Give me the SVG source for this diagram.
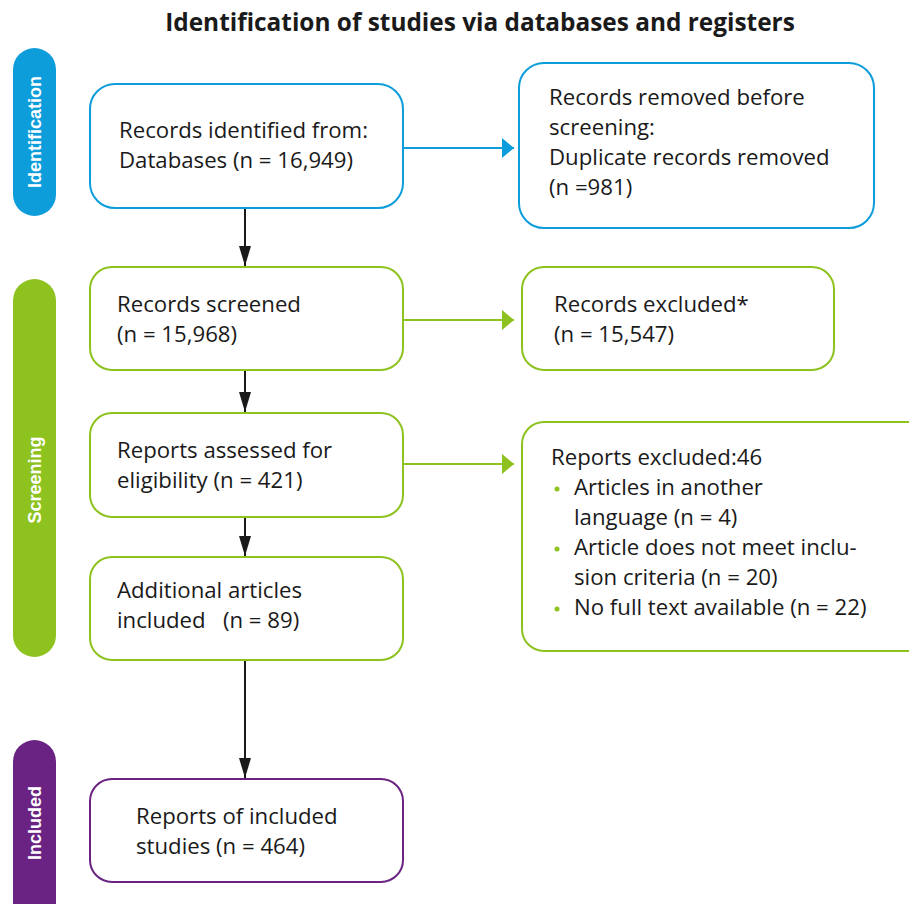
<svg xmlns="http://www.w3.org/2000/svg" width="909" height="904" viewBox="0 0 909 904">
<defs>
<style>
.t{font-family:"Open Sans","Noto Sans","Liberation Sans",sans-serif;font-size:22.2px;fill:#1a1a1a;white-space:pre}
.side{font-family:"Liberation Sans",Arial,sans-serif;font-size:18px;font-weight:bold;fill:#fff}
.title{font-family:"Open Sans","Liberation Sans",sans-serif;font-size:24.4px;font-weight:bold;fill:#1a1a1a}
.b{fill:#fff;stroke:#0d9ddb;stroke-width:2}
.g{fill:#fff;stroke:#8dc21f;stroke-width:2}
.p{fill:#fff;stroke:#6a2382;stroke-width:2}
.dot{fill:#8dc21f}
</style>
<marker id="ak" viewBox="0 0 20 12" refX="20" refY="6" markerWidth="20" markerHeight="12" markerUnits="userSpaceOnUse" orient="auto"><path d="M0,0L20,6L0,12z" fill="#1a1a1a"/></marker>
<marker id="ab" viewBox="0 0 12 20" refX="12" refY="10" markerWidth="12" markerHeight="20" markerUnits="userSpaceOnUse" orient="auto"><path d="M0,0L12,10L0,20z" fill="#0d9ddb"/></marker>
<marker id="ag" viewBox="0 0 12 20" refX="12" refY="10" markerWidth="12" markerHeight="20" markerUnits="userSpaceOnUse" orient="auto"><path d="M0,0L12,10L0,20z" fill="#8dc21f"/></marker>
</defs>
<rect width="909" height="904" fill="#fff"/>
<text class="title" x="480" y="31" text-anchor="middle">Identification of studies via databases and registers</text>

<g id="phase-identification"><rect x="13" y="48" width="43" height="168" rx="21.5" fill="#0d9ddb"/><text class="side" transform="translate(41,132) rotate(-90)" text-anchor="middle">Identification</text></g>
<g id="phase-screening"><rect x="13" y="279" width="43" height="378" rx="21.5" fill="#8dc21f"/><text class="side" transform="translate(41,480) rotate(-90)" text-anchor="middle">Screening</text></g>
<g id="phase-included"><rect x="13" y="740" width="43" height="190" rx="21.5" fill="#6a2382"/><text class="side" transform="translate(41,823) rotate(-90)" text-anchor="middle">Included</text></g>

<g id="connectors">
<line x1="403" y1="148" x2="514" y2="148" stroke="#0d9ddb" stroke-width="2" marker-end="url(#ab)"/>
<line x1="403" y1="320" x2="514" y2="320" stroke="#8dc21f" stroke-width="2" marker-end="url(#ag)"/>
<line x1="403" y1="464" x2="514" y2="464" stroke="#8dc21f" stroke-width="2" marker-end="url(#ag)"/>
<line x1="245" y1="208" x2="245" y2="266" stroke="#1a1a1a" stroke-width="2" marker-end="url(#ak)"/>
<line x1="245" y1="370" x2="245" y2="412" stroke="#1a1a1a" stroke-width="2" marker-end="url(#ak)"/>
<line x1="245" y1="517" x2="245" y2="556" stroke="#1a1a1a" stroke-width="2" marker-end="url(#ak)"/>
<line x1="245" y1="660" x2="245" y2="778" stroke="#1a1a1a" stroke-width="2" marker-end="url(#ak)"/>
</g>

<g id="n1"><rect class="b" x="90" y="84" width="313" height="124" rx="25"/><text class="t" x="119" y="138">Records identified from:</text><text class="t" x="119" y="168">Databases (n = 16,949)</text></g>
<g id="n2"><rect class="b" x="519" y="63" width="355" height="165" rx="25"/><text class="t" x="549" y="105">Records removed before</text><text class="t" x="549" y="135">screening:</text><text class="t" x="549" y="165">Duplicate records removed</text><text class="t" x="549" y="195">(n =981)</text></g>
<g id="n3"><rect class="g" x="90" y="267" width="313" height="103" rx="22"/><text class="t" x="117" y="312">Records screened</text><text class="t" x="117" y="342">(n = 15,968)</text></g>
<g id="n4"><rect class="g" x="522" y="267" width="312" height="103" rx="22"/><text class="t" x="554" y="312">Records excluded*</text><text class="t" x="554" y="342">(n = 15,547)</text></g>
<g id="n5"><rect class="g" x="90" y="413" width="313" height="104" rx="22"/><text class="t" x="117" y="458">Reports assessed for</text><text class="t" x="117" y="488">eligibility (n = 421)</text></g>
<g id="n6"><rect class="g" x="522" y="422" width="410" height="229" rx="22"/><text class="t" x="551" y="465">Reports excluded:46</text>
<circle class="dot" cx="557" cy="489" r="2.5"/><circle class="dot" cx="557" cy="549" r="2.5"/><circle class="dot" cx="557" cy="609" r="2.5"/>
<text class="t" x="574" y="495">Articles in another</text><text class="t" x="574" y="525">language (n = 4)</text><text class="t" x="574" y="555">Article does not meet inclu-</text><text class="t" x="574" y="585">sion criteria (n = 20)</text><text class="t" x="574" y="615">No full text available (n = 22)</text></g>
<g id="n7"><rect class="g" x="90" y="557" width="313" height="103" rx="22"/><text class="t" x="117" y="598">Additional articles</text><text class="t" x="117" y="628">included   (n = 89)</text></g>
<g id="n8"><rect class="p" x="90" y="779" width="313" height="103" rx="22"/><text class="t" x="136" y="824">Reports of included</text><text class="t" x="136" y="854">studies (n = 464)</text></g>
</svg>
